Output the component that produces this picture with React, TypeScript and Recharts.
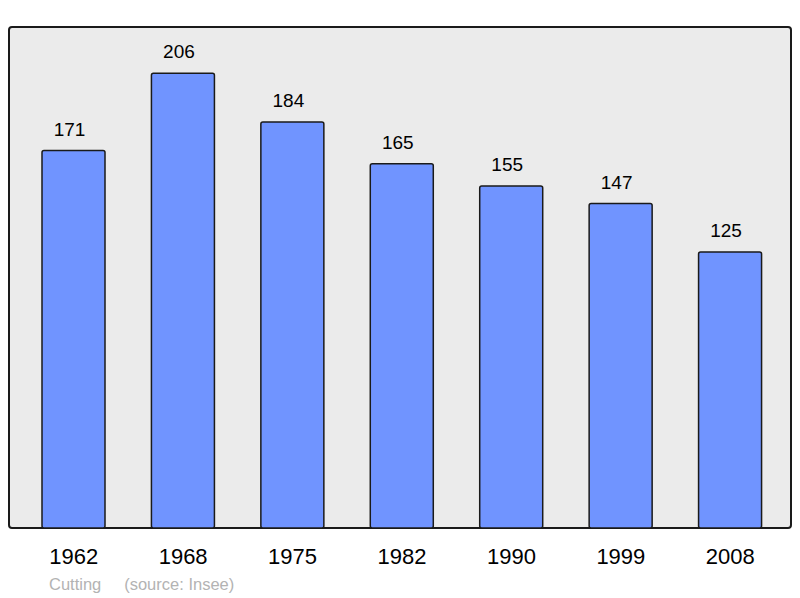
import { BarChart, Bar, XAxis, YAxis, LabelList } from 'recharts';

const years = ['1962', '1968', '1975', '1982', '1990', '1999', '2008'];
const population = [171, 206, 184, 165, 155, 147, 125];

const data = years.map((year, i) => ({ year, pop: population[i] }));

const font = '"Liberation Sans", Arial, sans-serif';

// value labels sit a little left of the bar centre in the original
const ValueLabel = (props: any) => {
  const { x, y, width, value } = props;
  return (
    <text x={x + width / 2 - 4} y={y - 15} textAnchor="middle" fontSize={19} fill="#000" fontFamily={font}>
      {value}
    </text>
  );
};

export default function App() {
  return (
    <div style={{ position: 'absolute', left: 0, top: 0, width: 800, height: 598, background: '#fff', fontFamily: font }}>
      <div
        style={{
          position: 'absolute',
          left: 8,
          top: 26,
          width: 780,
          height: 499,
          background: '#ebebeb',
          border: '2px solid #1a1a1a',
          borderRadius: 4,
        }}
      />
      <div style={{ position: 'absolute', left: 0, top: 0 }}>
        <BarChart width={800} height={598} data={data} margin={{ top: 27, right: 9, bottom: 0, left: 9 }}>
          <XAxis
            dataKey="year"
            height={70}
            axisLine={false}
            tickLine={false}
            tickSize={0}
            tickMargin={20}
            padding={{ left: 10, right: 6 }}
            tick={{ fontSize: 22, fill: '#000', fontFamily: font }}
            interval={0}
          />
          <YAxis hide domain={[0, 227]} />
          <Bar dataKey="pop" fill="#7094ff" stroke="#1a1a1a" strokeWidth={1.5} barSize={63} radius={2} isAnimationActive={false}>
            <LabelList dataKey="pop" content={ValueLabel} />
          </Bar>
        </BarChart>
      </div>
      <div style={{ position: 'absolute', left: 49, top: 575, fontSize: 16.5, color: '#b3b3b3', whiteSpace: 'pre' }}>
        Cutting     (source: Insee)
      </div>
    </div>
  );
}
